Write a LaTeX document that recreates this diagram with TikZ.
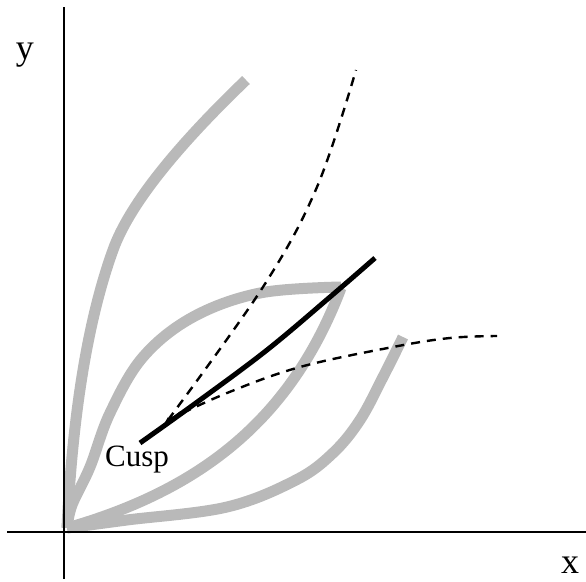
\documentclass[tikz,border=0pt]{standalone}
\usepackage{fontspec}
\setmainfont{Liberation Serif}
\usetikzlibrary{arrows.meta}
\definecolor{curvegray}{RGB}{185,185,185}
\begin{document}
\begin{tikzpicture}[x=1pt,y=-1pt,
  axis/.style={line width=1.6pt,black},
  graycurve/.style={line width=11pt,curvegray,line join=round},
  dashcurve/.style={line width=2.4pt,black,dash pattern=on 9pt off 7pt},
  cuspline/.style={line width=5pt,black},
  lbl/.style={inner sep=0pt,font=\fontsize{36}{40}\selectfont},
  cusplbl/.style={inner sep=0pt,font=\fontsize{31}{36}\selectfont}]
\useasboundingbox (0,0) rectangle (586,581);
% axes
\coordinate (ytop) at (64,7);
\coordinate (ybot) at (64,579);
\coordinate (xl) at (7,532);
\coordinate (xr) at (586,532);
% gray curves
\coordinate (O) at (67,528);
\coordinate (tip) at (341,288);
\coordinate (c1m) at (113,250);
\coordinate (c1e) at (246,80);
\draw[graycurve] (O) .. controls (72.8,411.6) and (88.1,319) .. (c1m)
                      .. controls (128.5,206.9) and (172.8,150.2) .. (c1e);
\draw[graycurve] plot[smooth,tension=0.6] coordinates {(67,528) (72,505) (90,467) (110,413) (143,357) (193,317) (260,293) (341,287)};
\draw[graycurve] (tip) .. controls (291,420) and (200,490) .. (O);
\draw[graycurve] plot[smooth,tension=0.6] coordinates {(67,528) (127,520) (227,507) (296,480) (333,453) (360,420) (383,377) (403,337)};
\draw[axis] (ytop) -- (ybot);
\draw[axis] (xl) -- (xr);
% dashed curves
\draw[dashcurve] plot[smooth,tension=0.6] coordinates {(168,420) (263,287) (317,187) (356,70)};
\draw[dashcurve] plot[smooth,tension=0.6] coordinates {(168,420) (227,393) (300,367) (393,347) (450,338) (497,336)};
% solid cusp line
\draw[cuspline] plot[smooth,tension=0.6] coordinates {(140,443) (200,400) (267,350) (330,297) (375,258)};
\coordinate (ah1) at (180,412);
\coordinate (ah2) at (164,424);
\draw[black,line width=1pt,-{Stealth[length=7pt,width=6pt]}] (ah1) -- (ah2);
% labels
\node[lbl] (ylab) at (25,55) {y};
\node[lbl] (xlab) at (570,565) {x};
\node[cusplbl] (cusp) at (137,460) {Cusp};
\end{tikzpicture}
\end{document}
